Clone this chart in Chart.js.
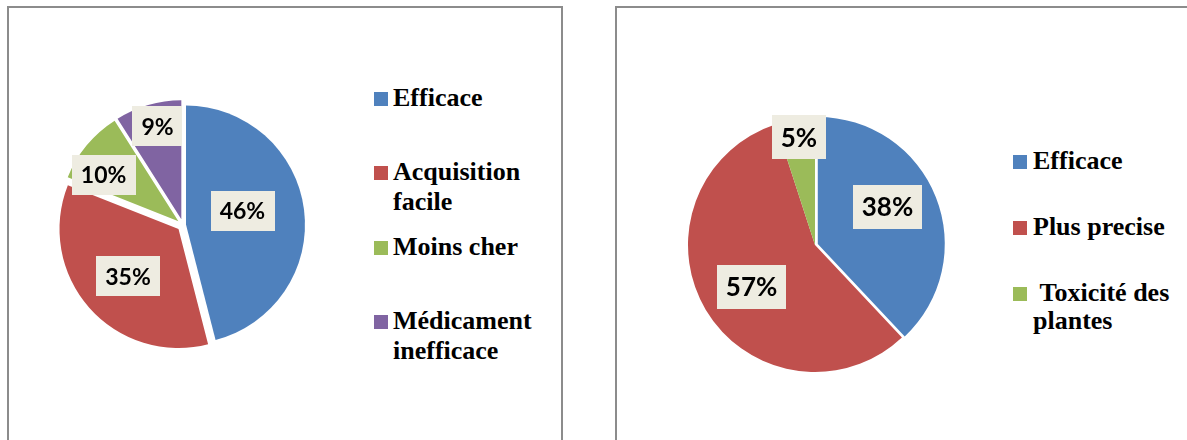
<!DOCTYPE html>
<html>
<head>
<meta charset="utf-8">
<script src="https://cdn.jsdelivr.net/npm/chart.js@4.4.1/dist/chart.umd.min.js"></script>
<style>
  html, body { margin: 0; padding: 0; background: #fff; }
  body { width: 1187px; height: 440px; position: relative; overflow: hidden; }
  .box { position: absolute; border: 2px solid #8c8c8c; box-sizing: border-box; }
  canvas { position: absolute; }
  .legend { position: absolute; font-family: "Liberation Serif", "Times New Roman", serif; font-weight: bold; font-size: 26px; color: #000; }
  .item { position: absolute; left: 0; }
  .swatch { position: absolute; left: 0; width: 14px; height: 14px; display: block; }
  .txt { position: absolute; display: block; white-space: pre-wrap; }
</style>
</head>
<body>
<div class="box" style="left:7px;top:6px;width:556px;height:460px"></div>
<div class="box" style="left:615px;top:6px;width:600px;height:460px"></div>

<canvas id="pie1" width="320" height="320" style="left:23px;top:65px"></canvas>
<div class="legend" id="leg1" style="left:374px;top:0"></div>

<canvas id="pie2" width="320" height="320" style="left:655px;top:85px"></canvas>
<div class="legend" id="leg2" style="left:1013px;top:0"></div>

<script>
// Graphique 1
const categories1 = ["Efficace", "Acquisition facile", "Moins cher", "Médicament inefficace"];
const values1 = [46, 35, 10, 9];

// Graphique 2
const categories2 = ["Efficace", "Plus precise", " Toxicité des plantes"];
const values2 = [38, 57, 5];

const couleurs = ["#4F81BD", "#C0504D", "#9BBB59", "#8064A2"];

// parts éclatées : on déplace chaque part le long de sa bissectrice
const eclater = {
  id: "eclater",
  afterDatasetUpdate(chart, args, opts) {
    args.meta.data.forEach((arc, i) => {
      const d = (opts.px && opts.px[i]) || 0;
      const a = (arc.startAngle + arc.endAngle) / 2;
      arc.x += Math.cos(a) * d;
      arc.y += Math.sin(a) * d;
    });
  }
};

// étiquettes avec fond beige, dessinées sur les parts
const boxLabels = {
  id: "boxLabels",
  afterDatasetsDraw(chart, args, opts) {
    const ctx = chart.ctx;
    const area = chart.chartArea;
    const x0 = (area.left + area.right) / 2;
    const y0 = (area.top + area.bottom) / 2;
    const meta = chart.getDatasetMeta(0);
    const data = chart.data.datasets[0].data;
    ctx.save();
    ctx.font = "bold " + opts.size + "px Lato";
    ctx.textAlign = "center";
    ctx.textBaseline = "middle";
    meta.data.forEach((arc, i) => {
      const a = (arc.startAngle + arc.endAngle) / 2 + (opts.shift[i] || 0) * Math.PI / 180;
      const r = arc.outerRadius * opts.dist[i];
      const cx = x0 + Math.cos(a) * r;
      const cy = y0 + Math.sin(a) * r;
      const txt = data[i] + "%";
      const w = ctx.measureText(txt).width + 2 * opts.padX;
      const h = opts.size + 2 * opts.padY;
      ctx.fillStyle = "#EEECE1";
      ctx.fillRect(Math.round(cx - w / 2), Math.round(cy - h / 2), Math.round(w), Math.round(h));
      ctx.fillStyle = "#000";
      ctx.fillText(txt, cx, cy + opts.dy);
    });
    ctx.restore();
  }
};

function creerCamembert(id, labels, values, radius, explode, labelOpts) {
  const ctx = document.getElementById(id).getContext("2d");
  return new Chart(ctx, {
    type: "pie",
    data: {
      labels: labels,
      datasets: [{
        data: values,
        backgroundColor: couleurs.slice(0, values.length),
        borderWidth: 0
      }]
    },
    options: {
      responsive: false,
      animation: false,
      radius: radius,
      events: [],
      plugins: {
        legend: { display: false },
        tooltip: { enabled: false },
        eclater: { px: explode },
        boxLabels: labelOpts
      }
    },
    plugins: [eclater, boxLabels]
  });
}

function creerLegende(elId, labels, o) {
  const el = document.getElementById(elId);
  labels.forEach((lab, i) => {
    const item = document.createElement("div");
    item.className = "item";
    item.style.top = (o.top + i * o.step) + "px";
    item.style.lineHeight = o.lineHeight + "px";
    const sw = document.createElement("span");
    sw.className = "swatch";
    sw.style.background = couleurs[i];
    sw.style.top = o.swatchTop + "px";
    const tx = document.createElement("span");
    tx.className = "txt";
    tx.style.left = o.textLeft + "px";
    tx.style.width = o.textWidth + "px";
    tx.textContent = lab;
    item.appendChild(sw);
    item.appendChild(tx);
    el.appendChild(item);
  });
}

creerCamembert("pie1", categories1, values1, 119, [3, 6, 6, 6], {
  size: 23, padX: 9, padY: 8.5, dy: 1,
  dist: [0.514, 0.633, 0.789, 0.855],
  shift: [-6.5, -1.7, -7.4, 1.7]
});
creerCamembert("pie2", categories2, values2, 127, [3, 0, 0], {
  size: 26, padX: 9, padY: 9, dy: 1,
  dist: [0.645, 0.597, 0.856],
  shift: [-6.1, -2.6, 0.5]
});

creerLegende("leg1", categories1, { top: 83, step: 74.3, lineHeight: 30, swatchTop: 9, textLeft: 19, textWidth: 150 });
creerLegende("leg2", categories2, { top: 147, step: 65.8, lineHeight: 28.5, swatchTop: 8, textLeft: 20, textWidth: 150 });
</script>
</body>
</html>
